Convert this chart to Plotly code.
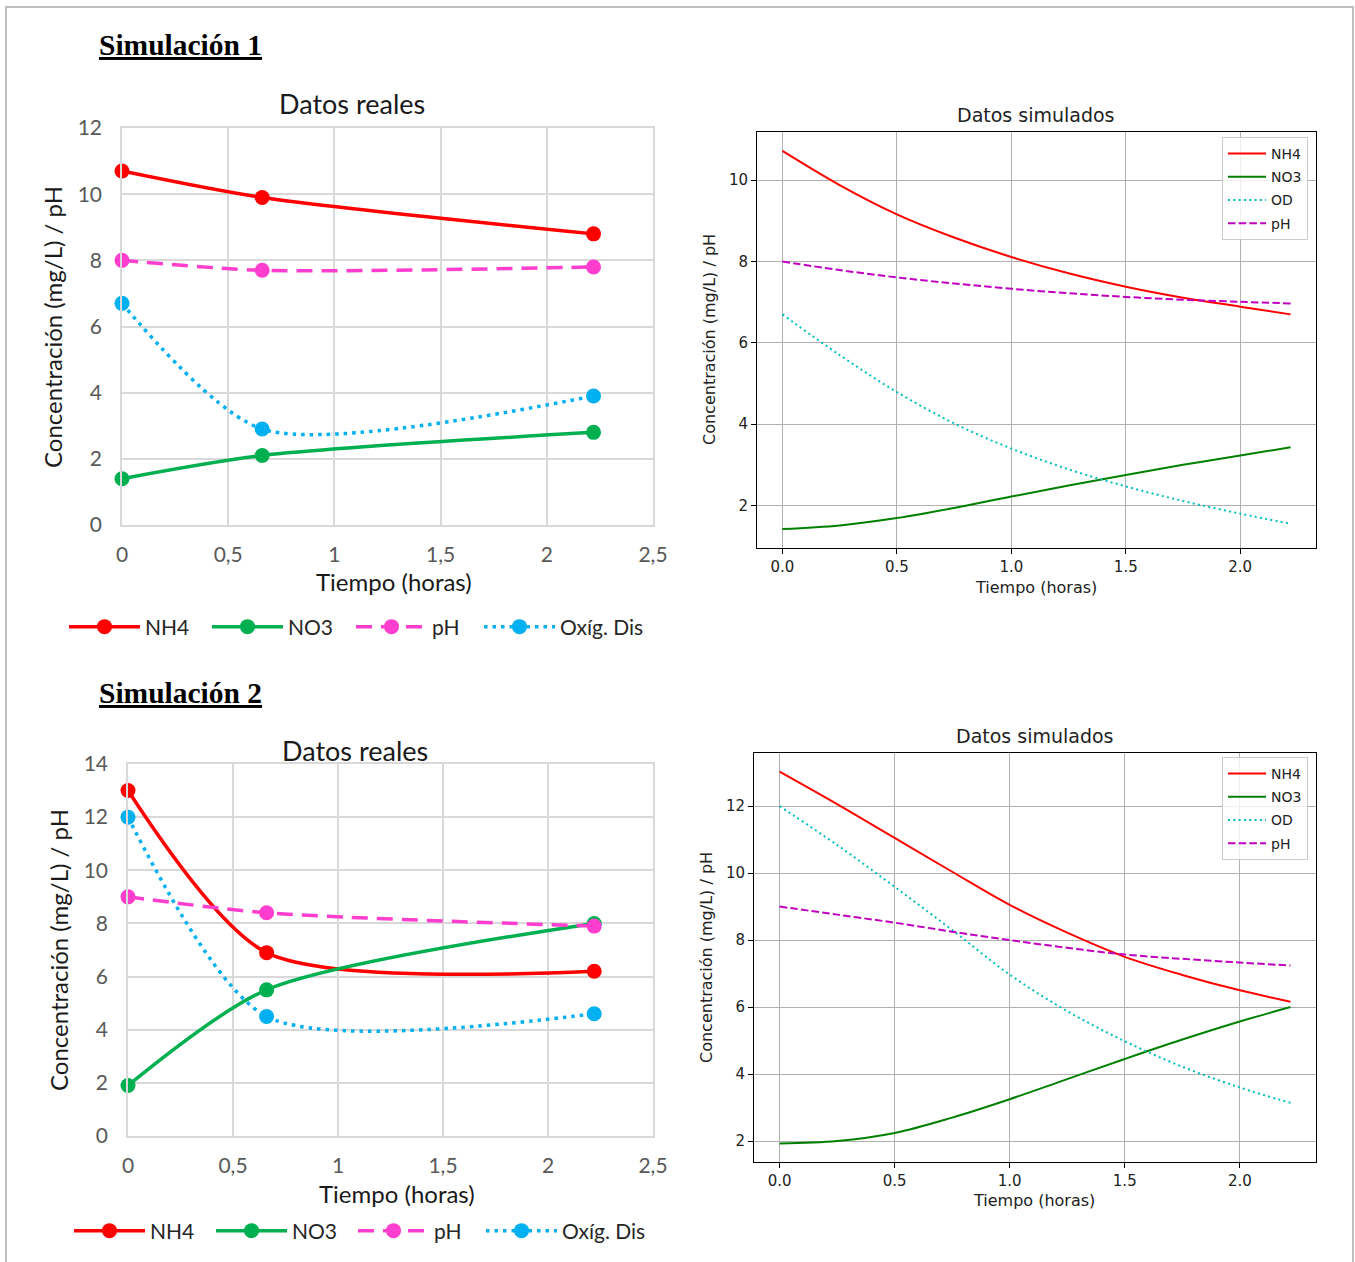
import plotly.graph_objects as go

W, H = 1355, 1262

# ---------------- Data ----------------
# Simulación 1 – datos reales
t_real1 = [0, 0.66, 2.22]
nh4_real1 = [10.7, 9.9, 8.8]
no3_real1 = [1.4, 2.1, 2.8]
ph_real1 = [8.0, 7.7, 7.8]
od_real1 = [6.7, 2.9, 3.9]

# Simulación 1 – datos simulados
t_sim = [0, 0.25, 0.5, 0.75, 1.0, 1.25, 1.5, 1.75, 2.0, 2.22]
nh4_sim1 = [10.72, 9.88, 9.16, 8.59, 8.11, 7.71, 7.38, 7.11, 6.89, 6.70]
no3_sim1 = [1.42, 1.51, 1.69, 1.94, 2.22, 2.49, 2.75, 3.00, 3.23, 3.43]
od_sim1 = [6.70, 5.70, 4.79, 4.02, 3.40, 2.89, 2.47, 2.11, 1.80, 1.55]
ph_sim1 = [8.00, 7.79, 7.61, 7.46, 7.33, 7.22, 7.13, 7.06, 7.01, 6.97]

# Simulación 2 – datos reales
t_real2 = [0, 0.66, 2.22]
nh4_real2 = [13.0, 6.9, 6.2]
no3_real2 = [1.9, 5.5, 8.0]
ph_real2 = [9.0, 8.4, 7.9]
od_real2 = [12.0, 4.5, 4.6]

# Simulación 2 – datos simulados
nh4_sim2 = [13.03, 12.06, 11.05, 10.04, 9.05, 8.22, 7.50, 6.96, 6.50, 6.16]
no3_sim2 = [1.93, 2.00, 2.24, 2.70, 3.25, 3.85, 4.45, 5.03, 5.57, 6.00]
od_sim2 = [12.0, 10.84, 9.59, 8.30, 6.97, 5.88, 4.98, 4.22, 3.60, 3.14]
ph_sim2 = [9.0, 8.76, 8.52, 8.25, 8.00, 7.77, 7.57, 7.44, 7.33, 7.24]

# Tick labels
excel_xticks = [0, 0.5, 1, 1.5, 2, 2.5]
excel_xtext = ["0", "0,5", "1", "1,5", "2", "2,5"]
mpl_xticks = [0, 0.5, 1.0, 1.5, 2.0]
mpl_xtext = ["0.0", "0.5", "1.0", "1.5", "2.0"]

# ---------------- Helpers ----------------
def px(x):
    return x / W

def py(y):
    return 1 - y / H

def mpl_range(*series):
    vals = [v for s in series for v in s]
    lo, hi = min(vals), max(vals)
    m = 0.05 * (hi - lo)
    return [lo - m, hi + m]

EXCEL_FONT = "Lato"
MPL_FONT = "DejaVu Sans"

C_NH4_X = "#ff0000"
C_NO3_X = "#00b050"
C_PH_X = "#ff3dce"
C_OD_X = "#00b0f0"

fig = go.Figure()

def add_excel(xa, ya, legs, t, nh4, no3, ph, od):
    common = dict(mode="lines+markers", line_shape="spline", cliponaxis=False,
                  xaxis=xa, yaxis=ya, showlegend=True)
    fig.add_trace(go.Scatter(x=t, y=nh4, name="NH4", legend=legs[0],
                             line=dict(color=C_NH4_X, width=3.5, smoothing=0.75),
                             marker=dict(size=15, color=C_NH4_X), **common))
    fig.add_trace(go.Scatter(x=t, y=no3, name="NO3", legend=legs[1],
                             line=dict(color=C_NO3_X, width=3.5, smoothing=0.75),
                             marker=dict(size=15, color=C_NO3_X), **common))
    fig.add_trace(go.Scatter(x=t, y=ph, name="pH", legend=legs[2],
                             line=dict(color=C_PH_X, width=3.5, dash="16px,9px", smoothing=0.75),
                             marker=dict(size=15, color=C_PH_X), **common))
    fig.add_trace(go.Scatter(x=t, y=od, name="Oxíg. Dis", legend=legs[3],
                             line=dict(color=C_OD_X, width=3.5, dash="3.5px,5px", smoothing=0.75),
                             marker=dict(size=15, color=C_OD_X), **common))

def add_mpl(xa, ya, leg, t, nh4, no3, od, ph):
    common = dict(mode="lines", line_shape="spline", xaxis=xa, yaxis=ya, legend=leg,
                  showlegend=True)
    fig.add_trace(go.Scatter(x=t, y=nh4, name="NH4", legendgroup=leg + "a",
                             line=dict(color="#ff0000", width=2), **common))
    fig.add_trace(go.Scatter(x=t, y=no3, name="NO3", legendgroup=leg + "b",
                             line=dict(color="#008000", width=2), **common))
    fig.add_trace(go.Scatter(x=t, y=od, name="OD", legendgroup=leg + "c",
                             line=dict(color="#00bfbf", width=2, dash="2px,3.3px"), **common))
    fig.add_trace(go.Scatter(x=t, y=ph, name="pH", legendgroup=leg + "d",
                             line=dict(color="#bf00bf", width=2, dash="7.5px,3.2px"), **common))

add_excel("x", "y", ["legend", "legend5", "legend6", "legend7"],
          t_real1, nh4_real1, no3_real1, ph_real1, od_real1)
add_mpl("x2", "y2", "legend2", t_sim, nh4_sim1, no3_sim1, od_sim1, ph_sim1)
add_excel("x3", "y3", ["legend3", "legend8", "legend9", "legend10"],
          t_real2, nh4_real2, no3_real2, ph_real2, od_real2)
add_mpl("x4", "y4", "legend4", t_sim, nh4_sim2, no3_sim2, od_sim2, ph_sim2)

def excel_x(domain, anchor):
    return dict(domain=domain, range=[0, 2.5], tickmode="array",
                tickvals=excel_xticks, ticktext=excel_xtext,
                showgrid=True, gridcolor="#d9d9d9", gridwidth=1.5, zeroline=False,
                showline=True, mirror=True, linecolor="#d9d9d9", linewidth=1.5,
                ticks="outside", ticklen=10, tickcolor="rgba(0,0,0,0)",
                tickfont=dict(family=EXCEL_FONT, size=21, color="#595959"),
                anchor=anchor, automargin=False, fixedrange=True)

def excel_y(domain, ymax, anchor):
    return dict(domain=domain, range=[0, ymax], tickmode="linear", tick0=0, dtick=2,
                showgrid=True, gridcolor="#d9d9d9", gridwidth=1.5, zeroline=False,
                showline=True, mirror=True, linecolor="#d9d9d9", linewidth=1.5,
                ticks="outside", ticklen=14, tickcolor="rgba(0,0,0,0)",
                tickfont=dict(family=EXCEL_FONT, size=21, color="#595959"),
                anchor=anchor, automargin=False, fixedrange=True)

def mpl_x(domain, anchor):
    return dict(domain=domain, range=mpl_range(t_sim), tickmode="array",
                tickvals=mpl_xticks, ticktext=mpl_xtext,
                showgrid=True, gridcolor="#b0b0b0", gridwidth=0.8, zeroline=False,
                showline=True, mirror=True, linecolor="black", linewidth=1,
                ticks="outside", ticklen=5, tickcolor="black",
                tickfont=dict(family=MPL_FONT, size=15, color="#222222"),
                anchor=anchor, automargin=False, fixedrange=True)

def mpl_y(domain, yr, anchor):
    return dict(domain=domain, range=yr, tickmode="linear", tick0=0, dtick=2,
                showgrid=True, gridcolor="#b0b0b0", gridwidth=0.8, zeroline=False,
                showline=True, mirror=True, linecolor="black", linewidth=1,
                ticks="outside", ticklen=5, tickcolor="black",
                tickfont=dict(family=MPL_FONT, size=15, color="#222222"),
                anchor=anchor, automargin=False, fixedrange=True)

# Plot-area positions (pixels)
P1 = (122, 653, 128, 525)
P2 = (757, 1316, 132, 548)
P3 = (128, 653, 764, 1136)
P4 = (754, 1316, 753, 1162)

def dx(p):
    return [px(p[0]), px(p[1])]

def dy(p):
    return [py(p[3]), py(p[2])]

layout = dict(
    width=W, height=H, autosize=False, showlegend=True,
    margin=dict(l=0, r=0, t=0, b=0, pad=0, autoexpand=False),
    paper_bgcolor="white", plot_bgcolor="white",
    xaxis=excel_x(dx(P1), "y"),
    yaxis=excel_y(dy(P1), 12, "x"),
    xaxis2=mpl_x(dx(P2), "y2"),
    yaxis2=mpl_y(dy(P2), mpl_range(nh4_sim1, no3_sim1, od_sim1, ph_sim1), "x2"),
    xaxis3=excel_x(dx(P3), "y3"),
    yaxis3=excel_y(dy(P3), 14, "x3"),
    xaxis4=mpl_x(dx(P4), "y4"),
    yaxis4=mpl_y(dy(P4), mpl_range(nh4_sim2, no3_sim2, od_sim2, ph_sim2), "x4"),
)

excel_leg = dict(orientation="h", xanchor="left", yanchor="middle", visible=True,
                 font=dict(family=EXCEL_FONT, size=21, color="#262626"),
                 bgcolor="rgba(0,0,0,0)", borderwidth=0, itemwidth=71)
mpl_leg = dict(orientation="v", xanchor="right", yanchor="top", visible=True,
               font=dict(family=MPL_FONT, size=14, color="#222222"),
               bgcolor="rgba(255,255,255,0.8)", bordercolor="#cccccc", borderwidth=1,
               itemwidth=38, traceorder="grouped", tracegroupgap=2)

# Excel legend entries: (legend id, symbol left edge px, centre y px)
excel_leg_pos = [
    ("legend", 70, 627), ("legend5", 213, 627), ("legend6", 357, 627), ("legend7", 485, 627),
    ("legend3", 75, 1231), ("legend8", 217, 1231), ("legend9", 359, 1231), ("legend10", 487, 1231),
]
for lid, sx, sy in excel_leg_pos:
    layout[lid] = excel_leg | dict(x=px(sx - 6), y=py(sy))

layout["legend2"] = mpl_leg | dict(x=px(1308), y=py(137))
layout["legend4"] = mpl_leg | dict(x=px(1308), y=py(757))

fig.update_layout(**layout)

def ann(text, x, y, size, family, color="black", angle=0, xanchor="center"):
    return dict(text=text, x=px(x), y=py(y), xref="paper", yref="paper",
                showarrow=False, textangle=angle, xanchor=xanchor, yanchor="middle",
                font=dict(family=family, size=size, color=color))

annotations = [
    ann("<b><u>Simulación 1</u></b>", 97, 45, 29.5, "Liberation Serif", xanchor="left"),
    ann("<b><u>Simulación 2</u></b>", 97, 693, 29.5, "Liberation Serif", xanchor="left"),
    # Panel 1
    ann("Datos reales", 352, 103, 27, EXCEL_FONT, "#1a1a1a"),
    ann("Tiempo (horas)", 394, 581, 24, EXCEL_FONT, "#1a1a1a"),
    ann("Concentración (mg/L) / pH", 53, 327, 24, EXCEL_FONT, "#1a1a1a", angle=-90),
    # Panel 3
    ann("Datos reales", 355, 750, 27, EXCEL_FONT, "#1a1a1a"),
    ann("Tiempo (horas)", 397, 1193, 24, EXCEL_FONT, "#1a1a1a"),
    ann("Concentración (mg/L) / pH", 58, 950, 24, EXCEL_FONT, "#1a1a1a", angle=-90),
    # Panel 2
    ann("Datos simulados", 1036, 115, 19, MPL_FONT, "#222222"),
    ann("Tiempo (horas)", 1036, 587, 16, MPL_FONT, "#222222"),
    ann("Concentración (mg/L) / pH", 709, 340, 16, MPL_FONT, "#222222", angle=-90),
    # Panel 4
    ann("Datos simulados", 1035, 736, 19, MPL_FONT, "#222222"),
    ann("Tiempo (horas)", 1034, 1200, 16, MPL_FONT, "#222222"),
    ann("Concentración (mg/L) / pH", 706, 958, 16, MPL_FONT, "#222222", angle=-90),
]
fig.update_layout(annotations=annotations)

fig.add_shape(type="rect", xref="paper", yref="paper",
              x0=px(6), x1=px(1353), y0=-0.02, y1=py(7),
              line=dict(color="#bfbfbf", width=2), fillcolor="rgba(0,0,0,0)",
              layer="below")

# remove the default page margin so the figure fills the window exactly
fig.write_html(
    "out.html",
    config={"displayModeBar": False},
    post_script="document.body.style.margin='0';document.body.style.padding='0';"
                "document.documentElement.style.overflow='hidden';",
)
